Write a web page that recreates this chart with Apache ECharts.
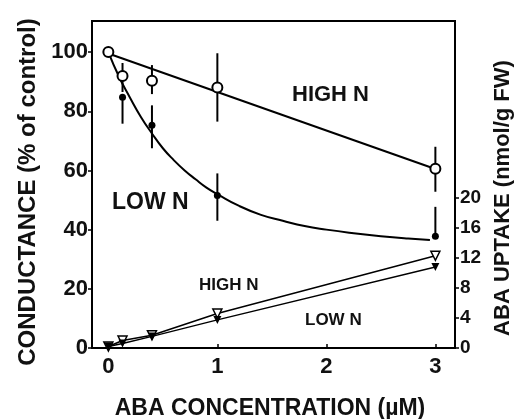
<!DOCTYPE html>
<html>
<head>
<meta charset="utf-8">
<script src="https://cdn.jsdelivr.net/npm/echarts@6/dist/echarts.min.js"></script>
<style>
html, body { margin: 0; padding: 0; background: #fff; }
#main { width: 518px; height: 419px; }
</style>
</head>
<body>
<div id="main"></div>
<script>
// conductance, % of control
const highX = [0, 0.13, 0.4, 1, 3];
const highCond = [100, 91.9, 90.3, 88, 60.6];
const highErrLo = [100, 86.5, 85.8, 76.5, 52.8];
const highErrHi = [100, 96.3, 95.6, 99.6, 68];

const lowX = [0.13, 0.4, 1, 3];
const lowCond = [84.7, 75.3, 51.5, 37.8];
const lowErrLo = [75.8, 67.5, 43, 37.8];
const lowErrHi = [85, 82, 59, 47.7];

// fitted lines
const highFitX = [0, 3];
const highFit = [99.5, 60.5];
const lowFitX = [0, 0.1, 0.2, 0.3, 0.4, 0.5, 0.6, 0.7, 0.8, 0.9, 1.0, 1.2, 1.4, 1.6, 1.8, 2.0, 2.25, 2.5, 2.75, 2.95];
const lowFit = [100, 91.5, 84.5, 78, 72.5, 67.5, 63.5, 60, 57, 54.2, 52, 48, 45, 43, 41.2, 40, 38.8, 37.8, 37, 36.5];

// ABA uptake, nmol/g FW
const uptakeX = [0, 0.13, 0.4, 1, 3];
const uptakeHigh = [0.2, 1.0, 1.7, 4.6, 12.3];
const uptakeLow = [0.2, 0.6, 1.55, 3.75, 10.8];

const xTicks = [0, 1, 2, 3];
const leftTicks = [0, 20, 40, 60, 80, 100];
const rightTicks = [0, 4, 8, 12, 16, 20];

const FONT = '"Liberation Sans", Arial, sans-serif';
const pairs = (xs, ys) => xs.map((x, i) => [x, ys[i]]);

const errData = highX.slice(1).map((x, i) => [x, highErrLo[i + 1], highErrHi[i + 1]])
    .concat(lowX.map((x, i) => [x, lowErrLo[i], lowErrHi[i]]));

const chart = echarts.init(document.getElementById('main'), null, { renderer: 'canvas' });

const label = (text, x, y, size, rot, align) => ({
    type: 'text', x: x, y: y, rotation: rot || 0,
    style: {
        text: text, fill: '#111', align: align || 'left', verticalAlign: 'middle',
        font: 'bold ' + size + 'px ' + FONT
    }
});

chart.setOption({
    animation: false,
    grid: { left: 92, right: 63, top: 21, bottom: 71, show: true, borderColor: '#000', borderWidth: 2 },
    xAxis: {
        type: 'value', min: -0.15, max: 3.18,
        axisLine: { show: true, onZero: false, lineStyle: { color: '#000', width: 2 } },
        axisTick: { show: true, inside: true, length: 4, customValues: xTicks, lineStyle: { color: '#000', width: 1.5 } },
        axisLabel: { customValues: xTicks, color: '#111', fontSize: 22, fontWeight: 'bold', fontFamily: FONT, margin: 8 },
        splitLine: { show: false }
    },
    yAxis: [
        {
            type: 'value', min: 0, max: 110.5,
            axisLine: { show: true, onZero: false, lineStyle: { color: '#000', width: 2 } },
            axisTick: { show: true, length: 4, customValues: leftTicks, lineStyle: { color: '#000', width: 1.5 } },
            axisLabel: { customValues: leftTicks, color: '#111', fontSize: 22, fontWeight: 'bold', fontFamily: FONT, margin: 4 },
            splitLine: { show: false }
        },
        {
            type: 'value', min: 0, max: 43.6, position: 'right',
            axisLine: { show: true, onZero: false, lineStyle: { color: '#000', width: 2 } },
            axisTick: { show: true, length: 4, customValues: rightTicks, lineStyle: { color: '#000', width: 1.5 } },
            axisLabel: { customValues: rightTicks, color: '#111', fontSize: 19, fontWeight: 'bold', fontFamily: FONT, margin: 5 },
            splitLine: { show: false }
        }
    ],
    graphic: [
        label('HIGH N', 292, 95, 22),
        label('LOW N', 112, 203, 23),
        label('HIGH N', 199, 285, 17),
        label('LOW N', 305, 320, 17),
        label('CONDUCTANCE (% of control)', 28, 192, 24, Math.PI / 2, 'center'),
        label('ABA UPTAKE (nmol/g FW)', 503, 198, 22, Math.PI / 2, 'center'),
        label('ABA CONCENTRATION (µM)', 270, 409, 23, 0, 'center')
    ],
    series: [
        {
            type: 'line', data: pairs(highFitX, highFit), showSymbol: false, z: 2,
            lineStyle: { color: '#000', width: 2 }
        },
        {
            type: 'line', data: pairs(lowFitX, lowFit), showSymbol: false, smooth: true, z: 2,
            lineStyle: { color: '#000', width: 2 }
        },
        {
            type: 'custom', data: errData, z: 3,
            encode: { x: 0, y: [1, 2] },
            renderItem: (params, api) => {
                const p1 = api.coord([api.value(0), api.value(1)]);
                const p2 = api.coord([api.value(0), api.value(2)]);
                return { type: 'line', shape: { x1: p1[0], y1: p1[1], x2: p2[0], y2: p2[1] }, style: { stroke: '#000', lineWidth: 2 } };
            }
        },
        {
            type: 'scatter', data: pairs(lowX, lowCond), symbol: 'circle', symbolSize: 7, z: 4,
            itemStyle: { color: '#000', opacity: 1 }
        },
        {
            type: 'scatter', data: pairs(highX, highCond), symbol: 'circle', symbolSize: 10, z: 5,
            itemStyle: { color: '#fff', borderColor: '#000', borderWidth: 2, opacity: 1 }
        },
        {
            type: 'line', yAxisIndex: 1, data: pairs(uptakeX, uptakeHigh), z: 4,
            symbol: 'triangle', symbolRotate: 180, symbolSize: 9,
            itemStyle: { color: '#fff', borderColor: '#000', borderWidth: 1.5 },
            lineStyle: { color: '#000', width: 1.5 }
        },
        {
            type: 'line', yAxisIndex: 1, data: pairs(uptakeX, uptakeLow), z: 4,
            symbol: 'triangle', symbolRotate: 180, symbolSize: 8,
            itemStyle: { color: '#000' },
            lineStyle: { color: '#000', width: 1.5 }
        }
    ]
});
</script>
</body>
</html>
